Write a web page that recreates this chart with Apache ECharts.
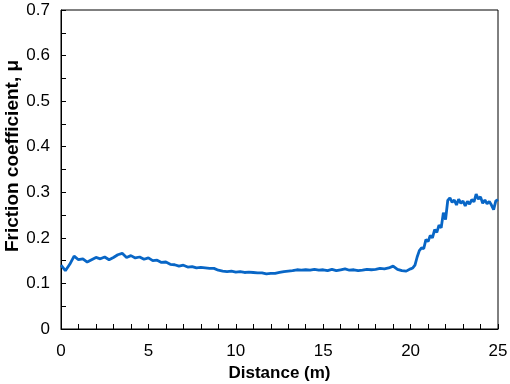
<!DOCTYPE html>
<html>
<head>
<meta charset="utf-8">
<script src="https://cdn.jsdelivr.net/npm/echarts@6/dist/echarts.min.js"></script>
<style>
html, body { margin: 0; padding: 0; background: #fff; }
#main { width: 510px; height: 384px; }
</style>
</head>
<body>
<div id="main"></div>
<script>
// distance (m)
var distance = [
    0, 0.25, 0.5, 0.75, 1, 1.25, 1.5, 1.75, 2, 2.25, 2.5, 2.75, 3, 3.25, 3.5, 3.75,
    4, 4.25, 4.5, 4.75, 5, 5.25, 5.5, 5.75, 6, 6.25, 6.5, 6.75, 7, 7.25, 7.5, 7.75,
    8, 8.25, 8.5, 8.75, 9, 9.25, 9.5, 9.75, 10, 10.25, 10.5, 10.75, 11, 11.25, 11.5, 11.75,
    12, 12.25, 12.5, 12.75, 13, 13.25, 13.5, 13.75, 14, 14.25, 14.5, 14.75, 15, 15.25, 15.5, 15.75,
    16, 16.25, 16.5, 16.75, 17, 17.25, 17.5, 17.75, 18, 18.25, 18.5, 18.75, 19, 19.25, 19.5, 19.75,
    20, 20.125, 20.25, 20.375, 20.5, 20.625, 20.75, 20.875, 21, 21.125, 21.25, 21.375, 21.5, 21.625, 21.75, 21.875,
    22, 22.125, 22.25, 22.375, 22.5, 22.625, 22.75, 22.875, 23, 23.125, 23.25, 23.375, 23.5, 23.625, 23.75, 23.875,
    24, 24.125, 24.25, 24.375, 24.5, 24.625, 24.75, 24.875, 25
];
// friction coefficient
var friction = [
    0.140, 0.128, 0.142, 0.160, 0.152, 0.154, 0.147, 0.152, 0.157, 0.154, 0.158, 0.152, 0.157, 0.163, 0.166, 0.157,
    0.161, 0.156, 0.158, 0.153, 0.156, 0.150, 0.151, 0.146, 0.147, 0.142, 0.141, 0.138, 0.140, 0.136, 0.137, 0.134,
    0.135, 0.134, 0.133, 0.133, 0.129, 0.127, 0.126, 0.127, 0.125, 0.126, 0.124, 0.125, 0.124, 0.123, 0.123, 0.121,
    0.122, 0.122, 0.124, 0.126, 0.127, 0.128, 0.130, 0.129, 0.130, 0.129, 0.131, 0.129, 0.130, 0.128, 0.131, 0.128,
    0.130, 0.132, 0.129, 0.130, 0.128, 0.129, 0.131, 0.130, 0.131, 0.133, 0.132, 0.134, 0.138, 0.131, 0.128, 0.127,
    0.132, 0.134, 0.140, 0.158, 0.172, 0.178, 0.176, 0.196, 0.192, 0.205, 0.200, 0.218, 0.212, 0.228, 0.222, 0.255,
    0.240, 0.282, 0.288, 0.278, 0.283, 0.272, 0.285, 0.276, 0.281, 0.270, 0.280, 0.274, 0.284, 0.279, 0.296, 0.285,
    0.290, 0.276, 0.283, 0.275, 0.280, 0.272, 0.262, 0.281, 0.284
];

var chart = echarts.init(document.getElementById('main'));

var font = 'Liberation Sans, Arial, sans-serif';

var option = {
    animation: false,
    grid: {
        left: 61, right: 12, top: 10, bottom: 55,
        outerBoundsMode: 'none',
        show: true, borderColor: '#000', borderWidth: 1
    },
    graphic: [{
        type: 'text',
        x: 13, y: 156,
        rotation: Math.PI / 2,
        style: {
            text: 'Friction coefficient, μ',
            font: 'bold 19px ' + font,
            fill: '#000',
            align: 'center',
            verticalAlign: 'middle'
        }
    }],
    xAxis: {
        type: 'value',
        min: 0, max: 25, interval: 5,
        name: 'Distance (m)',
        nameLocation: 'middle',
        nameGap: 36,
        nameTextStyle: { fontFamily: font, fontSize: 17, fontWeight: 'bold', color: '#000' },
        axisLine: { lineStyle: { color: '#000' } },
        axisTick: { inside: true, length: 5, lineStyle: { color: '#000' } },
        minorTick: { show: true, splitNumber: 5, length: 5, lineStyle: { color: '#000' } },
        axisLabel: { fontFamily: font, fontSize: 17, color: '#000', margin: 14 },
        splitLine: { show: false }
    },
    yAxis: {
        type: 'value',
        min: 0, max: 0.7, interval: 0.1,
        axisLine: { show: true, lineStyle: { color: '#000' } },
        axisTick: { show: true, inside: true, length: 5, lineStyle: { color: '#000' } },
        minorTick: { show: true, splitNumber: 2, length: 5, lineStyle: { color: '#000' } },
        axisLabel: { fontFamily: font, fontSize: 17, color: '#000', margin: 11 },
        splitLine: { show: false }
    },
    series: [{
        type: 'line',
        data: distance.map(function (d, i) { return [d, friction[i]]; }),
        showSymbol: false,
        lineStyle: { color: '#0866c6', width: 2.8 },
        itemStyle: { color: '#0866c6' }
    }]
};

chart.setOption(option);
</script>
</body>
</html>
